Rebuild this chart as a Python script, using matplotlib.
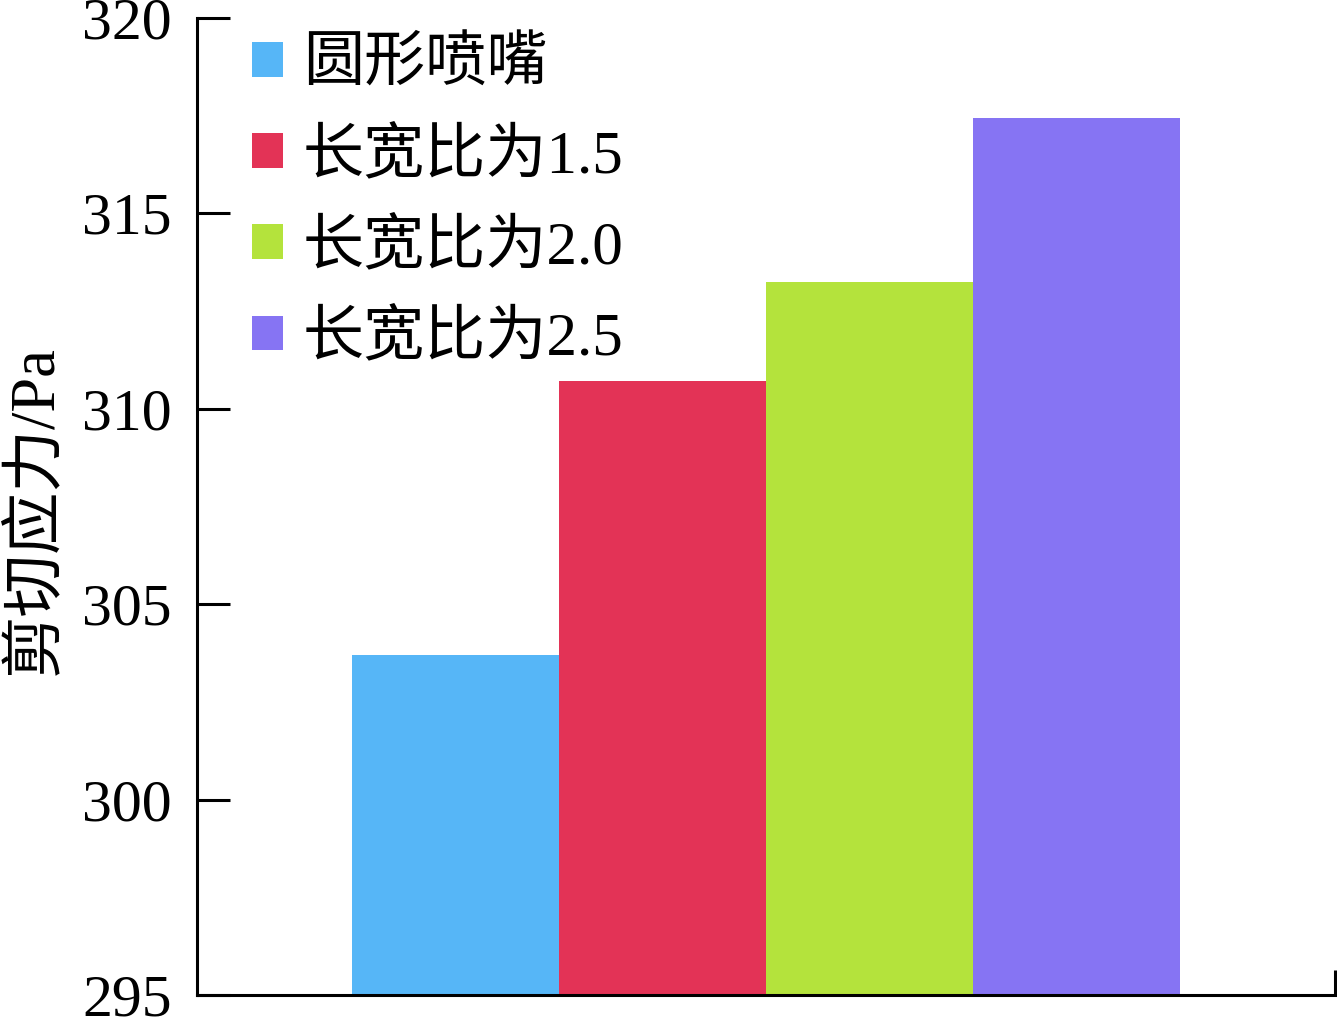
import matplotlib
matplotlib.use("Agg")
import matplotlib.pyplot as plt

# Shear stress for each nozzle shape
labels = ["圆形喷嘴", "长宽比为1.5", "长宽比为2.0", "长宽比为2.5"]
values = [303.7, 310.7, 313.25, 317.45]
colors = ["#56B6F7", "#E33356", "#B4E33C", "#8674F3"]
yticks = [295, 300, 305, 310, 315, 320]

fonts = ["Liberation Serif", "Noto Sans CJK SC"]
plt.rcParams["font.family"] = fonts

fig = plt.figure(figsize=(13.37, 10.18), dpi=100)
ax = fig.add_axes([0.1473, 0.0226, 0.851, 0.9597])

for i, (lab, val, col) in enumerate(zip(labels, values, colors)):
    ax.bar(i, val - 295, bottom=295, width=1.0, color=col, label=lab, linewidth=0)

ax.set_ylim(295, 320)
ax.set_xlim(-1.249, 4.249)
ax.set_yticks(yticks)
ax.set_yticklabels([str(t) for t in yticks], fontsize=43)
ax.tick_params(axis="y", direction="in", length=24, width=2.2, pad=18)

# small stub at the right end of the x axis
ax.set_xticks([4.249])
ax.set_xticklabels([""])
ax.tick_params(axis="x", direction="in", length=18, width=2.2)

for side in ["top", "right"]:
    ax.spines[side].set_visible(False)
for side in ["left", "bottom"]:
    ax.spines[side].set_linewidth(2.2)

ax.set_ylabel("剪切应力/Pa", fontsize=45)
ax.yaxis.set_label_coords(-0.116, 0.496)

ax.legend(loc="upper left", bbox_to_anchor=(0.027, 1.005), frameon=False,
          fontsize=44, handlelength=0.5, handleheight=0.5,
          handletextpad=0.33, labelspacing=0.55, borderaxespad=0.0)

fig.savefig("out.png", dpi=100)
